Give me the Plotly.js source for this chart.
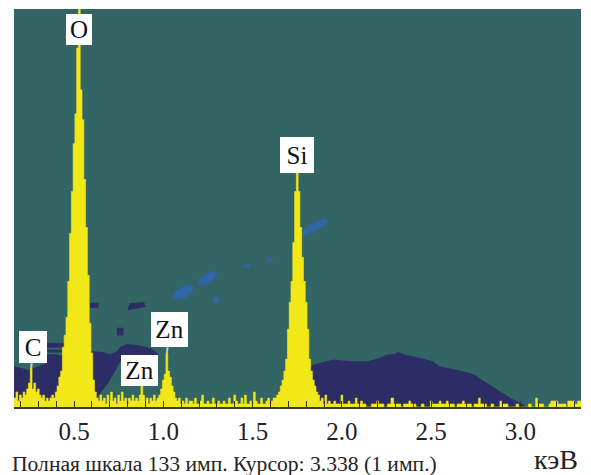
<!DOCTYPE html>
<html>
<head>
<meta charset="utf-8">
<script src="https://cdn.plot.ly/plotly-3.0.1.min.js"></script>
<style>html,body{margin:0;padding:0;background:#fff;}#chart{width:591px;height:475px;}</style>
</head>
<body>
<div id="chart"></div>
<script>
// ---- Spectrum (step left edges in keV, counts) ----
const segA_E = [0.164,0.175,0.185,0.195,0.205,0.215,0.225,0.235,0.245,0.255,0.265,0.275,0.285,0.295,0.305,0.315,0.325,0.335,0.345,0.355,0.365,0.375,0.385,0.395];
const segA_C = [3,5,2,4,3,5,4,6,8,13,6,8,5,6,4,3,4,2,3,2,3,4,3,5];
const segO_E = [0.405,0.415,0.425,0.435,0.445,0.455,0.465,0.475,0.485,0.495,0.505,0.515,0.525,0.535,0.545,0.555,0.565,0.575,0.585,0.595,0.605,0.615,0.625];
const segO_C = [7,10,12,20,24,30,42,58,72,88,98,120,133,106,96,76,60,44,28,18,9,5,3];
const segN1_E = [0.635,0.645,0.655,0.665,0.675,0.685,0.695,0.705,0.715,0.725,0.735,0.745,0.755,0.765,0.775,0.785,0.795,0.805,0.815,0.825,0.835,0.845,0.855,0.865,0.875,0.885,0.895,0.905,0.915,0.925,0.935,0.945,0.955,0.965];
const segN1_C = [2,4,2,3,1,4,2,5,2,3,1,4,2,5,2,3,1,3,2,4,2,3,2,4,7,4,2,3,1,3,2,4,2,3];
const segZn_E = [0.975,0.985,0.995,1.005,1.015,1.025,1.035,1.045,1.055,1.065,1.075];
const segZn_C = [4,6,9,11,18,12,10,7,5,3,2];
const segN2_E = [1.085,1.095,1.105,1.115,1.125,1.135,1.145,1.165,1.175,1.185,1.205,1.215,1.225,1.245,1.255,1.275,1.285,1.305,1.315,1.335,1.345,1.365,1.375,1.395,1.405,1.415,1.435,1.445,1.455,1.465,1.485,1.495,1.505,1.515,1.525,1.545,1.555,1.575,1.585,1.595,1.605,1.615];
const segN2_C = [3,1,2,1,3,1,2,1,3,1,2,4,1,2,1,3,1,2,1,2,1,3,1,4,2,1,3,1,4,1,2,1,5,2,1,3,1,2,3,1,2,3];
const segSi_E = [1.625,1.635,1.645,1.655,1.665,1.675,1.685,1.695,1.705,1.715,1.725,1.735,1.745,1.755,1.765,1.775,1.785,1.795,1.805,1.815,1.825,1.835,1.845,1.855,1.865,1.875,1.885,1.895];
const segSi_C = [3,4,5,7,9,12,16,26,35,42,55,72,79,72,60,50,42,35,26,16,12,9,7,5,4,2,3,1];
const segN3_E = [1.905,1.915,1.925,1.935,1.955,1.965,1.995,2.005,2.035,2.045,2.075,2.085,2.105,2.115,2.135,2.165,2.195,2.205,2.235,2.255,2.275,2.29,2.33,2.345,2.375,2.385,2.415,2.445,2.46,2.495,2.505,2.545,2.555,2.585,2.595,2.63,2.645,2.675,2.685,2.725,2.74,2.765,2.775,2.81,2.835,2.85,2.885,2.895,2.93,2.975,2.99,3.045,3.06,3.085,3.095,3.13,3.16,3.17,3.21,3.255,3.265,3.305,3.32,3.34];
const segN3_C = [4,1,2,1,2,1,4,1,2,1,3,1,2,1,0,1,2,1,0,1,3,1,0,1,2,1,0,1,0,2,1,2,1,2,1,0,1,2,1,0,1,3,1,0,1,0,2,1,0,1,0,1,0,3,1,0,1,2,1,0,2,1,2,1];

// ---- Background artefact regions (keV, counts) ----
const navyLeftE = [0.164,0.164,0.20,0.24,0.28,0.32,0.345,0.35,0.40,0.44,0.44];
const navyLeftC = [0,13.5,13,12.3,13,14,14.5,17.5,17.5,17,0];
const navyStripe1E = [0.345,0.44,0.44,0.345];
const navyStripe1C = [20,20,21.3,21.3];
const navyStripe2E = [0.35,0.43,0.43,0.35];
const navyStripe2C = [18.4,18.4,19,19];
const navyMidE = [0.595,0.595,0.66,0.70,0.74,0.76,0.80,0.86,0.93,0.965,0.965,0.85,0.77,0.73,0.69,0.65,0.615];
const navyMidC = [2,18.5,18.3,17.5,18.5,20,21,20.5,19.5,18,17,17,16.5,12,8,5,2];
const navyBlob1E = [0.59,0.635,0.635,0.59];
const navyBlob1C = [33.3,33.3,34.7,34.7];
const navyBlob2E = [0.80,0.90,0.89,0.81];
const navyBlob2C = [32.5,33.5,35,34.5];
const navyBlob3E = [0.74,0.775,0.775,0.74];
const navyBlob3C = [24,24,26.3,26.3];
const navyRightE = [1.80,1.80,1.84,1.90,1.95,2.06,2.14,2.20,2.25,2.30,2.315,2.36,2.40,2.47,2.51,2.55,2.64,2.70,2.74,2.81,2.885,2.96,3.02,3.03];
const navyRightC = [0,12,14,14.8,15.7,15.1,15.1,16,17.3,17.6,18.3,17.2,16.8,15.8,15.1,13.4,12.3,11.5,10.7,7.9,5.1,2.3,0.7,0];
const blue1E = [1.054,1.08,1.12,1.16,1.166,1.14,1.10,1.066];
const blue1C = [36.8,36.0,36.5,38.5,40.2,40.8,39.8,38.6];
const blue2E = [1.194,1.22,1.26,1.295,1.30,1.28,1.24,1.205];
const blue2C = [41.2,40.7,41.5,43.5,44.6,45.2,44.5,43.0];
const blue3E = [1.273,1.30,1.318,1.31,1.285];
const blue3C = [35.2,35,35.8,36.7,36.6];
const blue4E = [1.455,1.49,1.485,1.455];
const blue4C = [46.6,46.8,47.6,47.4];
const blue5E = [1.58,1.61,1.605,1.58];
const blue5C = [48.3,49,50,49.5];
const blue6E = [1.777,1.80,1.84,1.88,1.915,1.922,1.90,1.86,1.82,1.79];
const blue6C = [57.3,57.5,58.5,60,61,62.4,62.8,62,60.5,59.2];

// ---- Labels ----
const tickVals = [0.5,1.0,1.5,2.0,2.5,3.0];
const tickText = ['0.5','1.0','1.5','2.0','2.5','3.0'];
const peakLabels = ['O','Si','C','Zn','Zn'];
const peakE = [0.53,1.751,0.26,1.02,0.88];
const peakC = [126.3,84.2,13,18,7];
const footerText = 'Полная шкала 133 имп. Курсор: 3.338 (1 имп.)';
const unitText = 'кэВ';

const specE = [].concat(segA_E,segO_E,segN1_E,segZn_E,segN2_E,segSi_E,segN3_E);
const specC = [].concat(segA_C,segO_C,segN1_C,segZn_C,segN2_C,segSi_C,segN3_C);

const NAVY = '#2d2d66', BLUE = '#3065a8', YEL = '#f2e817', TEAL = '#336565';
const SERIF = "'Liberation Serif', 'Times New Roman', serif";
function poly(x,y,color){
  return {type:'scatter',mode:'lines',x:x,y:y,fill:'toself',fillcolor:color,
          line:{width:0.8,color:color},hoverinfo:'skip',showlegend:false};
}
const traces = [
  poly(navyLeftE,navyLeftC,NAVY), poly(navyStripe1E,navyStripe1C,NAVY), poly(navyStripe2E,navyStripe2C,NAVY),
  poly(navyMidE,navyMidC,NAVY), poly(navyBlob1E,navyBlob1C,NAVY), poly(navyBlob2E,navyBlob2C,NAVY),
  poly(navyBlob3E,navyBlob3C,NAVY), poly(navyRightE,navyRightC,NAVY),
  poly(blue1E,blue1C,BLUE), poly(blue2E,blue2C,BLUE), poly(blue3E,blue3C,BLUE),
  poly(blue4E,blue4C,BLUE), poly(blue5E,blue5C,BLUE), poly(blue6E,blue6C,BLUE),
  {type:'scatter',mode:'lines',x:specE,y:specC,line:{shape:'hv',width:0.6,color:YEL},
   fill:'tozeroy',fillcolor:YEL,hoverinfo:'skip',showlegend:false}
];

const boxW = [22,30,24,33,33], boxH = [27,32,28,31,27];
const arrows = [false,false,true,true,true];
const axs = [0,0,2,3,-2], ays = [0,0,-21.5,-24,-16];
const annotations = peakLabels.map((t,i)=>({
  x:peakE[i], y:peakC[i], xref:'x', yref:'y', text:t,
  showarrow:arrows[i], ax:axs[i], ay:ays[i], arrowhead:0, arrowwidth:2, arrowcolor:'#c8c8c8',
  bgcolor:'#ffffff', borderpad:2, borderwidth:0, width:boxW[i], height:boxH[i],
  font:{family:SERIF, size:25, color:'#111'}
}));
annotations.push({xref:'paper',yref:'paper',x:-0.007,y:-0.143,xanchor:'left',yanchor:'middle',
  text:footerText,showarrow:false,font:{family:SERIF,size:21.6,color:'#222'}});
annotations.push({xref:'paper',yref:'paper',x:0.998,y:-0.133,xanchor:'right',yanchor:'middle',
  text:unitText,showarrow:false,font:{family:SERIF,size:28,color:'#222'}});

const layout = {
  width:591, height:475,
  margin:{l:14,r:10,t:9,b:68,pad:0},
  paper_bgcolor:'#ffffff', plot_bgcolor:TEAL,
  showlegend:false,
  xaxis:{range:[0.164,3.339], tickvals:tickVals, ticktext:tickText,
    ticks:'inside', ticklen:6, tickwidth:1, tickcolor:'#333',
    minor:{dtick:0.1, tick0:0, ticks:'inside', ticklen:6, tickwidth:1, tickcolor:'#333', showgrid:false},
    showline:true, linecolor:'#3a3a3a', linewidth:2, showgrid:false, zeroline:false,
    tickfont:{family:SERIF, size:25, color:'#222'}, ticklabelstandoff:1, fixedrange:true},
  yaxis:{range:[0,133], visible:false, showgrid:false, zeroline:false, fixedrange:true},
  annotations:annotations
};
Plotly.newPlot('chart', traces, layout, {staticPlot:true, displayModeBar:false});
</script>
</body>
</html>
